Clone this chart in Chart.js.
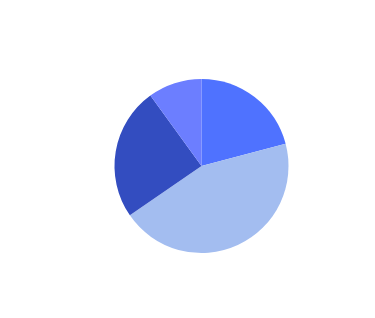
<!DOCTYPE html>
<html>
<head>
<meta charset="utf-8">
<script src="https://cdn.jsdelivr.net/npm/chart.js@4"></script>
<style>
  html, body { margin: 0; padding: 0; background: #ffffff; }
  #wrap { width: 375px; height: 318px; }
</style>
</head>
<body>
<div id="wrap"><canvas id="pieChart"></canvas></div>
<script>
// Slice data (clockwise from 12 o'clock)
const categories = ['A', 'B', 'C', 'D'];
const shares = [20.9, 44.5, 24.6, 10.0];
const sliceColors = ['#4f72ff', '#a3bdf0', '#334dc0', '#6c7eff'];

new Chart(document.getElementById('pieChart'), {
    type: 'pie',
    data: {
        labels: categories,
        datasets: [{
            data: shares,
            backgroundColor: sliceColors,
            borderWidth: 0
        }]
    },
    options: {
        responsive: true,
        maintainAspectRatio: false,
        animation: false,
        layout: {
            padding: { left: 28, right: 0, top: 79, bottom: 65 }
        },
        plugins: {
            legend: { display: false },
            tooltip: { enabled: false }
        }
    }
});
</script>
</body>
</html>
